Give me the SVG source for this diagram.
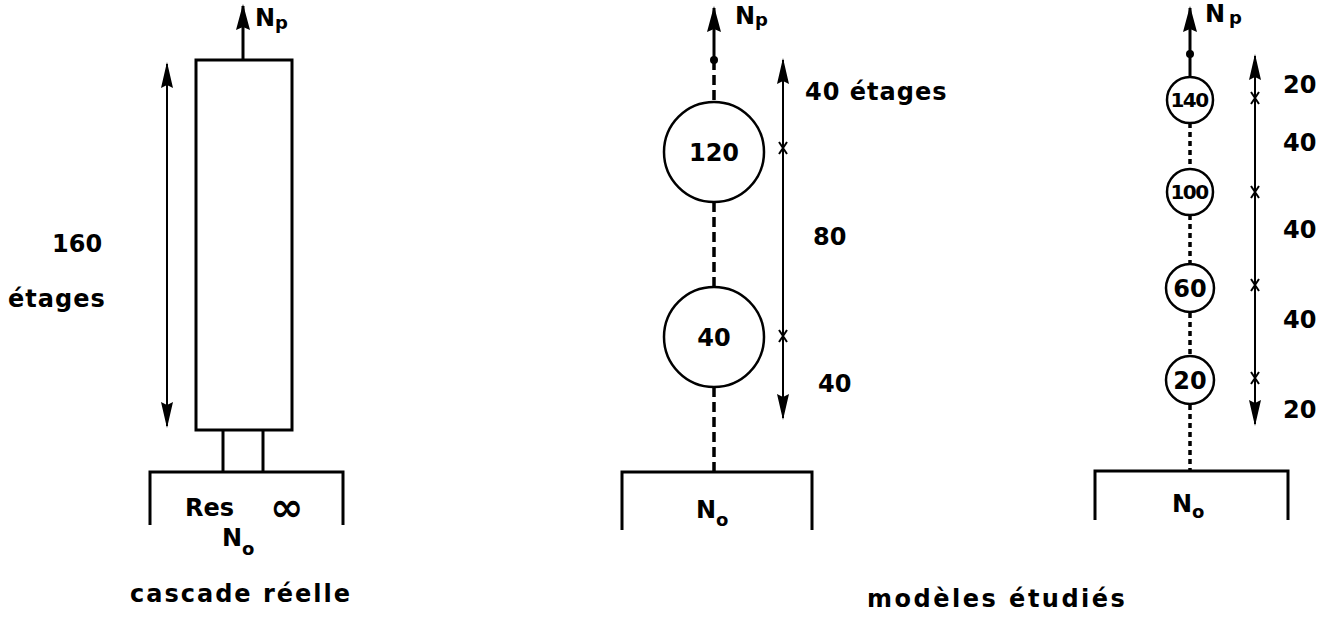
<svg xmlns="http://www.w3.org/2000/svg" width="1329" height="620" viewBox="0 0 1329 620">
<defs>
<marker id="ah" viewBox="0 0 26 14" refX="24" refY="7" markerWidth="26" markerHeight="14" markerUnits="userSpaceOnUse" orient="auto-start-reverse">
<path d="M26 7 L0 0 L3 7 L0 14 Z" fill="#000"/>
</marker>
<marker id="ahs" viewBox="0 0 26 12" refX="24" refY="6" markerWidth="26" markerHeight="12" markerUnits="userSpaceOnUse" orient="auto-start-reverse">
<path d="M26 6 L0 0 L3 6 L0 12 Z" fill="#000"/>
</marker>
</defs>
<style>
.t{font-family:"DejaVu Sans",sans-serif;font-weight:bold;font-size:24px;fill:#000}
.s{font-size:18px}
.sm{font-size:20px;letter-spacing:-1.5px}
.md{font-size:24px}
.inf{font-size:40px}
.ln{stroke:#000;stroke-width:3;fill:none}
.th{stroke:#000;stroke-width:2;fill:none}
.dash{stroke:#000;stroke-width:3.5;fill:none;stroke-dasharray:10 5}
.dot{stroke:#000;stroke-width:3.5;fill:none;stroke-dasharray:5 4}
.c{stroke:#000;stroke-width:2.5;fill:#fff}
</style>
<rect width="1329" height="620" fill="#fff"/>

<g id="connectors">
<line class="ln" x1="243" y1="60" x2="243" y2="6" marker-end="url(#ah)"/>
<line class="th" x1="167" y1="64" x2="167" y2="426" marker-start="url(#ahs)" marker-end="url(#ahs)"/>
<line class="dash" x1="714" y1="60" x2="714" y2="102"/>
<line class="dash" x1="714" y1="202" x2="714" y2="287"/>
<line class="dash" x1="714" y1="387" x2="714" y2="472"/>
<line class="ln" x1="714" y1="58" x2="714" y2="8" marker-end="url(#ah)"/>
<circle cx="714" cy="60" r="4" fill="#000"/>
<line class="th" x1="783" y1="60" x2="783" y2="418" marker-start="url(#ahs)" marker-end="url(#ahs)"/>
<line class="ln" x1="1190" y1="52" x2="1190" y2="8" marker-end="url(#ah)"/>
<circle cx="1190" cy="54" r="4" fill="#000"/>
<line class="ln" x1="1190" y1="54" x2="1190" y2="77"/>
<line class="dot" x1="1190" y1="123" x2="1190" y2="169"/>
<line class="dot" x1="1190" y1="215" x2="1190" y2="263"/>
<line class="dot" x1="1190" y1="313" x2="1190" y2="355"/>
<line class="dot" x1="1190" y1="405" x2="1190" y2="470"/>
<line class="th" x1="1255" y1="56" x2="1255" y2="424" marker-start="url(#ahs)" marker-end="url(#ahs)"/>
<g class="th" stroke-width="3">
<path d="M779 142 L787 154 M787 142 L779 154"/>
<path d="M779 330 L787 342 M787 330 L779 342"/>
<path d="M1251 92 L1259 104 M1259 92 L1251 104"/>
<path d="M1251 186 L1259 198 M1259 186 L1251 198"/>
<path d="M1251 279 L1259 291 M1259 279 L1251 291"/>
<path d="M1251 372 L1259 384 M1259 372 L1251 384"/>
</g>
</g>

<g id="cascade-reelle">
<rect class="ln" x="196" y="60" width="96" height="370"/>
<line class="ln" x1="223" y1="430" x2="223" y2="472"/>
<line class="ln" x1="263" y1="430" x2="263" y2="472"/>
<path class="ln" d="M150 525 L150 472 L343 472 L343 525"/>
<text class="t" x="255" y="26">N<tspan class="s" dy="3">p</tspan></text>
<text class="t" x="52" y="252">160</text>
<text class="t" x="8" y="307" letter-spacing="1">étages</text>
<text class="t" x="185" y="516">Res</text>
<text class="t inf" x="270" y="521">∞</text>
<text class="t" x="222" y="546">N<tspan class="s" dy="9">o</tspan></text>
<text class="t" x="130" y="602" letter-spacing="2">cascade réelle</text>
</g>

<g id="modele-2">
<circle class="c" cx="714" cy="152" r="50"/>
<text class="t" x="714" y="161" text-anchor="middle">120</text>
<circle class="c" cx="714" cy="337" r="50"/>
<text class="t" x="714" y="346" text-anchor="middle">40</text>
<path class="ln" d="M622 530 L622 472 L812 472 L812 530"/>
<text class="t" x="735" y="24">N<tspan class="s" dy="2">p</tspan></text>
<text class="t" x="805" y="100" letter-spacing="1">40 étages</text>
<text class="t" x="813" y="245">80</text>
<text class="t" x="818" y="392">40</text>
<text class="t" x="696" y="518">N<tspan class="s" dy="8">o</tspan></text>
</g>

<g id="modele-4">
<circle class="c" cx="1190" cy="100" r="23"/>
<text class="t sm" x="1189" y="107" text-anchor="middle">140</text>
<circle class="c" cx="1190" cy="192" r="23"/>
<text class="t sm" x="1189" y="199" text-anchor="middle">100</text>
<circle class="c" cx="1190" cy="288" r="24"/>
<text class="t md" x="1190" y="297" text-anchor="middle">60</text>
<circle class="c" cx="1190" cy="380" r="24"/>
<text class="t md" x="1190" y="389" text-anchor="middle">20</text>
<path class="ln" d="M1095 520 L1095 471 L1288 471 L1288 520"/>
<text class="t" x="1205" y="22">N<tspan class="s" dx="4" dy="2">p</tspan></text>
<text class="t" x="1283" y="93">20</text>
<text class="t" x="1283" y="151">40</text>
<text class="t" x="1283" y="238">40</text>
<text class="t" x="1283" y="328">40</text>
<text class="t" x="1283" y="418">20</text>
<text class="t" x="1172" y="512">N<tspan class="s" dy="6">o</tspan></text>
</g>

<text class="t" x="867" y="607" letter-spacing="2.5">modèles  étudiés</text>
</svg>
